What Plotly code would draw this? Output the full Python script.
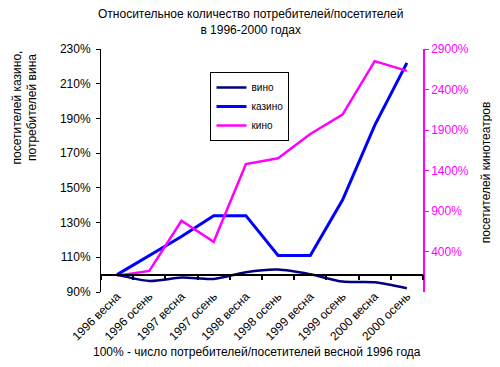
import plotly.graph_objects as go

categories = ["1996 весна", "1996 осень", "1997 весна", "1997 осень", "1998 весна",
              "1998 осень", "1999 весна", "1999 осень", "2000 весна", "2000 осень"]
wine = [100, 96.4, 98.3, 97.5, 101.4, 102.9, 100.2, 96.0, 95.6, 92.2]
casino = [100, 111, 122, 134, 134, 111, 111, 143, 186, 222]
cinema = [100, 160, 780, 520, 1480, 1550, 1850, 2090, 2750, 2630]

left_ticks = [90, 110, 130, 150, 170, 190, 210, 230]
grid_ticks = [110, 130, 150, 170, 190, 210]
right_ticks = [400, 900, 1400, 1900, 2400, 2900]

FONT = "Liberation Sans, Arial, sans-serif"
MAG = "#FF00FF"

# page has an 8px body margin; plot area in page coords: x 101..423, y 48.5..292
fig = go.Figure()
fig.add_trace(go.Scatter(x=categories, y=wine, name="вино", mode="lines", xaxis="x2",
                         line=dict(color="#000080", width=2.5, shape="spline", smoothing=0.8)))
fig.add_trace(go.Scatter(x=categories, y=casino, name="казино", mode="lines",
                         line=dict(color="#0000FF", width=3)))
fig.add_trace(go.Scatter(x=categories, y=cinema, name="кино", mode="lines", yaxis="y2",
                         line=dict(color=MAG, width=2.5)))

fig.update_layout(
    width=500, height=367,
    margin=dict(l=93, r=85, t=40.5, b=83, autoexpand=False),
    paper_bgcolor="white", plot_bgcolor="white",
    font=dict(family=FONT, size=12, color="black"),
    showlegend=True,
    legend=dict(x=0.34, y=0.905, xanchor="left", yanchor="top",
                bgcolor="white", bordercolor="black", borderwidth=1,
                font=dict(size=10), tracegroupgap=0),
    xaxis=dict(type="category", categoryorder="array", categoryarray=categories,
               range=[-0.5, 9.5], showline=False, showgrid=False, ticks="",
               tickangle=-45, tickfont=dict(size=12), zeroline=False,
               automargin=False, ticklabelstandoff=-6),
    xaxis2=dict(type="category", categoryorder="array", categoryarray=categories,
                overlaying="x", anchor="free", position=(100 - 90) / (230 - 90),
                range=[-0.5, 9.5], tickson="boundaries", showticklabels=False,
                showline=True, linecolor="black", linewidth=1.5,
                ticks="outside", ticklen=5, tickcolor="black", tickwidth=1.5,
                showgrid=False, zeroline=False, automargin=False),
    yaxis=dict(range=[90, 230], tickvals=left_ticks,
               ticktext=[f"{v}%" for v in left_ticks],
               showgrid=False, showline=True, linecolor="black", linewidth=1,
               ticks="outside", ticklen=4, tickcolor="black", zeroline=False,
               tickfont=dict(size=12), automargin=False, ticklabelstandoff=3),
    yaxis3=dict(overlaying="y", range=[90, 230], tickvals=grid_ticks,
                showticklabels=False, showgrid=True, gridcolor="#808080",
                gridwidth=1.2, showline=False, ticks="", zeroline=False,
                layer="below traces", automargin=False),
    yaxis2=dict(overlaying="y", side="right", anchor="x", range=[-100, 2900],
                tickvals=right_ticks, ticktext=[f"{v}%" for v in right_ticks],
                showgrid=False,
                showline=True, linecolor=MAG, linewidth=1.5,
                ticks="outside", ticklen=4, tickcolor=MAG,
                tickfont=dict(color=MAG, size=12), zeroline=False,
                automargin=False),
    annotations=[
        dict(text="Относительное количество потребителей/посетителей<br>в 1996-2000 годах",
             xref="paper", yref="paper", x=(250 - 101) / 322, y=(292 - 4) / 243.6,
             xanchor="center", yanchor="top", showarrow=False,
             font=dict(size=12)),
        dict(text="посетителей казино,<br>потребителей вина", textangle=-90,
             xref="paper", yref="paper", x=(25 - 101) / 322, y=(292 - 107) / 243.6,
             xanchor="center", yanchor="middle", showarrow=False,
             font=dict(size=12)),
        dict(text="посетителей кинотеатров", textangle=-90,
             xref="paper", yref="paper", x=(486 - 101) / 322, y=(292 - 172) / 243.6,
             xanchor="center", yanchor="middle", showarrow=False,
             font=dict(size=12)),
        dict(text="100% - число потребителей/посетителей весной 1996 года",
             xref="paper", yref="paper", x=(257 - 101) / 322, y=(292 - 352) / 243.6,
             xanchor="center", yanchor="middle", showarrow=False,
             font=dict(size=12)),
    ],
)

fig.write_html("out.html")
